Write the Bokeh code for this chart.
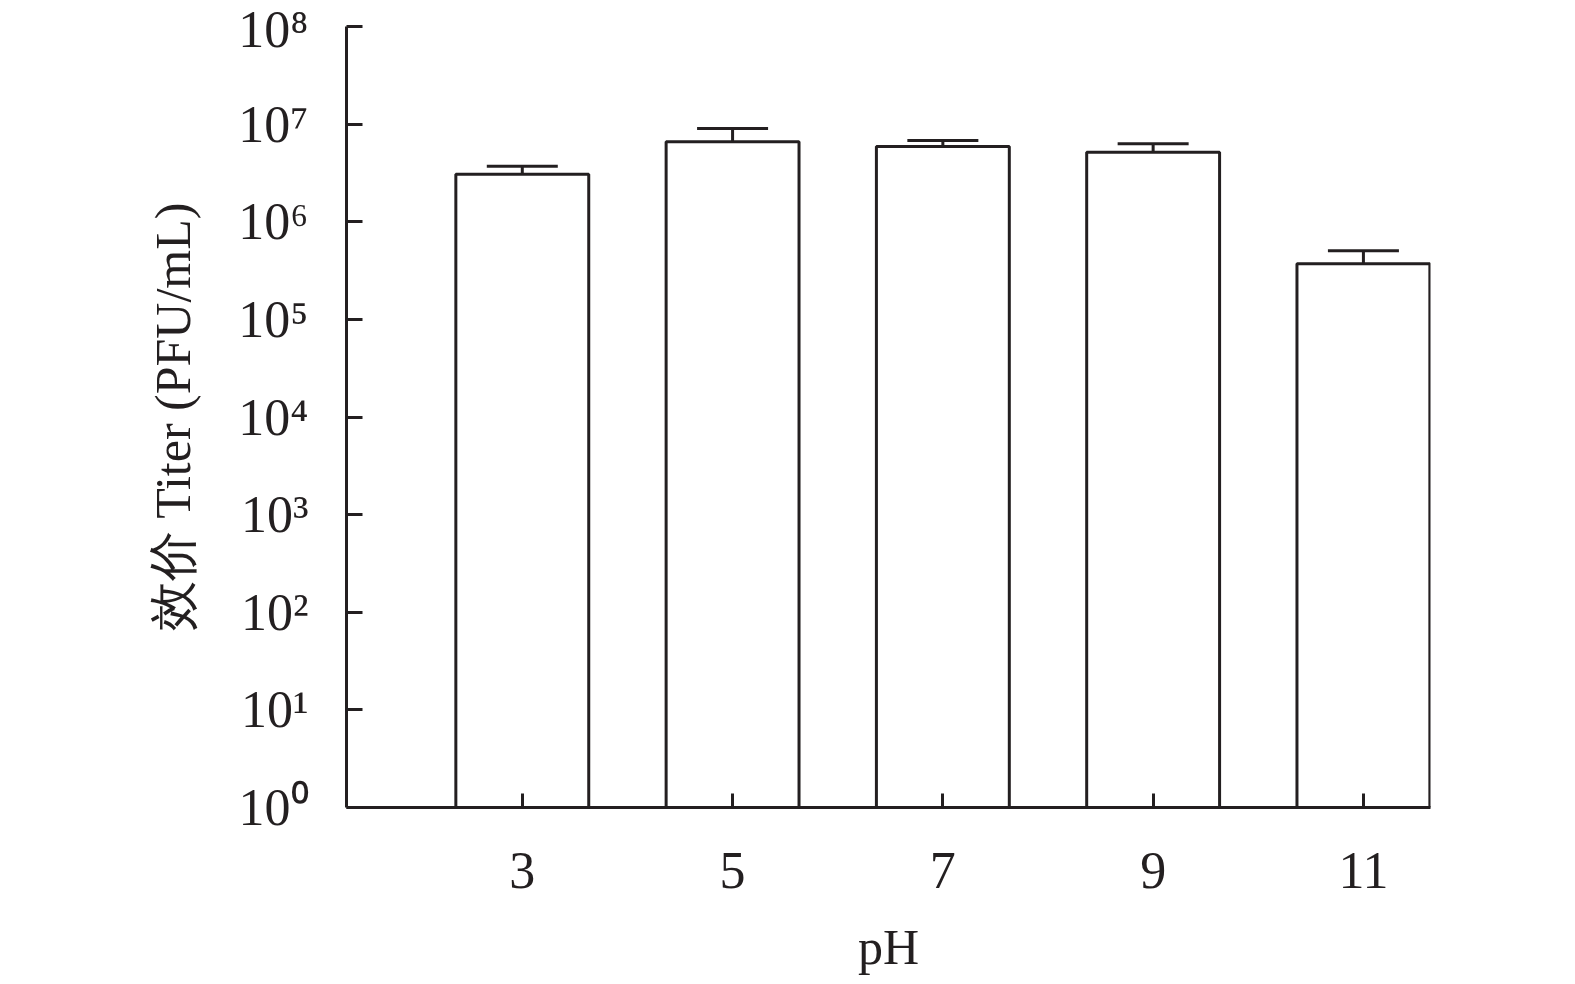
from bokeh.plotting import figure
from bokeh.models import Range1d, FixedTicker, ColumnDataSource, Whisker, TeeHead
from bokeh.embed import file_html
from bokeh.resources import INLINE

# data
ph_labels = ["3", "5", "7", "9", "11"]
titer = [3.06e6, 6.6e6, 5.9e6, 5.15e6, 3.72e5]
titer_err_top = [3.7e6, 9.0e6, 6.8e6, 6.3e6, 5.06e5]
y_tick_exponents = [0, 1, 2, 3, 4, 5, 6, 7, 8]

SUP = str.maketrans("0123456789", "⁰¹²³⁴⁵⁶⁷⁸⁹")
INK = "#231f20"
FONT = "Liberation Serif"

xs = list(range(len(ph_labels)))
src = ColumnDataSource(dict(x=xs, top=titer, cap=titer_err_top))

p = figure(width=1522, height=977, y_axis_type="log",
           x_range=Range1d(-0.836, 4.319), y_range=Range1d(1, 1e8),
           output_backend="svg", toolbar_location=None,
           min_border_left=346, min_border_top=26, min_border_right=92,
           min_border_bottom=170)
p.outline_line_color = None
p.grid.grid_line_color = None
p.background_fill_color = "white"

p.vbar(x="x", top="top", bottom=1, width=0.632, source=src,
       fill_color="white", line_color=INK, line_width=3)

w = Whisker(base="x", lower="top", upper="cap", source=src,
            line_color=INK, line_width=3,
            upper_head=TeeHead(size=71, line_color=INK, line_width=3),
            lower_head=None)
p.add_layout(w)

ticks = [10 ** e for e in y_tick_exponents]
p.yaxis.ticker = FixedTicker(ticks=ticks)
p.yaxis.major_label_overrides = {t: "10" + str(e).translate(SUP) for t, e in zip(ticks, y_tick_exponents)}
p.xaxis.ticker = FixedTicker(ticks=xs)
p.xaxis.major_label_overrides = {i: s for i, s in zip(xs, ph_labels)}

for ax in (p.xaxis[0], p.yaxis[0]):
    ax.axis_line_color = INK
    ax.axis_line_width = 3
    ax.major_tick_line_color = INK
    ax.major_tick_line_width = 3
    ax.major_tick_out = 0
    ax.minor_tick_line_color = None
    ax.major_label_text_font = FONT
    ax.major_label_text_font_size = "52px"
    ax.major_label_text_color = INK
    ax.axis_label_text_font = FONT
    ax.axis_label_text_font_size = "50px"
    ax.axis_label_text_font_style = "normal"
    ax.axis_label_text_color = INK

p.xaxis.major_tick_in = 14
p.yaxis.major_tick_in = 16
p.xaxis.major_label_standoff = 45
p.yaxis.major_label_standoff = 38
p.xaxis.axis_label = "pH"
p.yaxis.axis_label = "效价 Titer (PFU/mL)"
p.xaxis.axis_label_standoff = 28
p.yaxis.axis_label_standoff = 34

open("out.html", "w").write(file_html(p, INLINE))
